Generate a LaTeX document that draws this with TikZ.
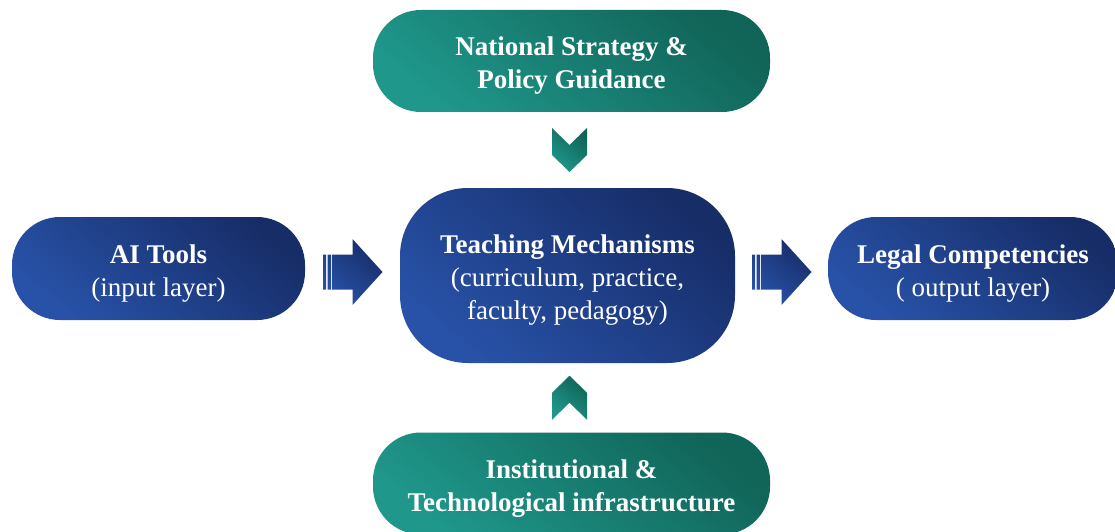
\documentclass[tikz,border=0pt]{standalone}
\usepackage{fontspec}
\setmainfont{Liberation Serif}
\usetikzlibrary{calc}

\definecolor{blueLight}{HTML}{2852A8}
\definecolor{blueDark}{HTML}{172D68}
\definecolor{tealLight}{HTML}{1F978B}
\definecolor{tealDark}{HTML}{116458}

\newcommand{\topgap}{\rule{0pt}{28.5pt}}

\tikzset{
  box/.style={rectangle, rounded corners=48pt, text=white, align=center,
    inner sep=0pt, font=\fontsize{27}{33}\selectfont},
  bluebox/.style={box, top color=blueDark, bottom color=blueLight, shading angle=-40},
  tealbox/.style={box, top color=tealDark, bottom color=tealLight, shading angle=-40},
  pics/stripearrow/.style={code={
    \shade[top color=blueDark, bottom color=blueLight, shading angle=-40]
      (-29.5,-17.5) rectangle (-26.5,17.5)
      (-25,-17.5) rectangle (-21.5,17.5)
      (-20.5,-17.5) -- (0,-17.5) -- (0,-33) -- (30,0) -- (0,33) -- (0,17.5) -- (-20.5,17.5) -- cycle;
  }},
  pics/chevron/.style={code={
    \shade[top color=tealDark, bottom color=tealLight, shading angle=-40]
      (-17.5,-22) -- (0,-5) -- (17.5,-22) -- (17.5,5) -- (0,22) -- (-17.5,5) -- cycle;
  }}
}

\begin{document}
\begin{tikzpicture}[x=1pt, y=-1pt]
  \useasboundingbox (0,0) rectangle (1115,532);
  \clip (0,0) rectangle (1115,532);

  \node[bluebox, minimum width=293pt, minimum height=103pt] (ai) at (158.5,268.5)
    {\topgap\textbf{AI Tools}\\(input layer)};
  \node[bluebox, rounded corners=68pt, minimum width=335pt, minimum height=175pt] (teach) at (567.5,275.5)
    {\topgap\textbf{Teaching Mechanisms}\\(curriculum, practice,\\faculty, pedagogy)};
  \node[bluebox, minimum width=290pt, minimum height=103pt] (legal) at (973,268.5)
    {\topgap\textbf{Legal Competencies}\\( output layer)};
  \node[tealbox, minimum width=397pt, minimum height=102pt] (policy) at (571.5,61)
    {\topgap\textbf{National Strategy \&}\\\textbf{Policy Guidance}};
  \node[tealbox, minimum width=397pt, minimum height=102pt] (infra) at (571.5,483.5)
    {\topgap\textbf{Institutional \&}\\\textbf{Technological infrastructure}};

  % block arrows between the boxes
  \pic at ($(ai.east)!0.5!(teach.west)$) {stripearrow};
  \pic at ($(teach.east)!0.5!(legal.west)$) {stripearrow};
  \pic at ($(policy.south)!0.5!(teach.north)$) {chevron};
  \pic[rotate=180] at ($(infra.north)!0.5!(teach.south)$) {chevron};
\end{tikzpicture}
\end{document}
